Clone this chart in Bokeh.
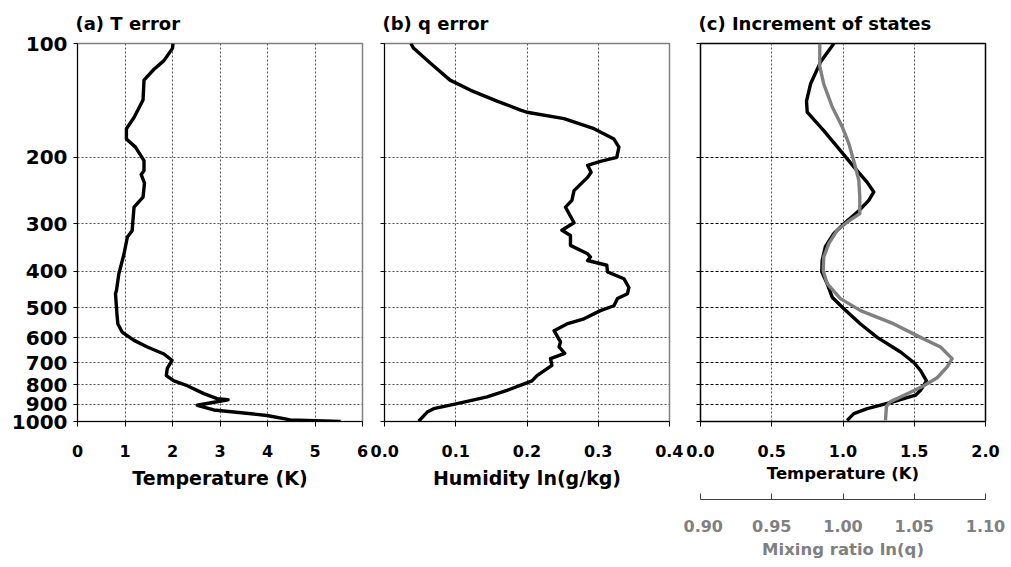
from bokeh.plotting import figure
from bokeh.layouts import row
from bokeh.models import (Range1d, LinearAxis, FixedTicker, PrintfTickFormatter)
from bokeh.embed import file_html
from bokeh.resources import INLINE

# ---------------- data ----------------
# (a) T error
ta_p = [100, 103, 111, 117, 125, 141, 157, 168, 179, 188, 204, 217, 222, 234, 255, 271,
        313, 325, 360, 407, 450, 459, 519, 552, 580, 610, 635, 663, 689, 724, 756, 781,
        804, 844, 870, 876, 906, 932, 964, 990, 1000]
ta_T = [2.01, 2.00, 1.82, 1.61, 1.40, 1.38, 1.19, 1.03, 1.03, 1.22, 1.40, 1.40, 1.34, 1.41,
        1.38, 1.19, 1.15, 1.05, 0.98, 0.87, 0.82, 0.80, 0.83, 0.85, 0.94, 1.19, 1.47, 1.82,
        1.99, 1.89, 1.87, 2.03, 2.31, 2.66, 2.94, 3.17, 2.52, 2.87, 3.99, 4.48, 5.54]

# (b) q error
qb_p = [100, 103, 113, 125, 133, 142, 150, 152, 158, 168, 179, 188, 200, 205, 210, 219,
        226, 245, 260, 271, 298, 312, 322, 342, 360, 367, 375, 386, 402, 419, 442, 459,
        473, 494, 509, 535, 552, 575, 616, 635, 660, 682, 710, 756, 781, 795, 827, 861,
        897, 925, 944, 998]
qb_q = [0.037, 0.041, 0.065, 0.092, 0.121, 0.158, 0.191, 0.200, 0.252, 0.294, 0.322, 0.329,
        0.326, 0.303, 0.285, 0.290, 0.285, 0.266, 0.263, 0.254, 0.266, 0.249, 0.261, 0.261,
        0.285, 0.289, 0.285, 0.312, 0.313, 0.336, 0.343, 0.341, 0.327, 0.322, 0.303, 0.280,
        0.256, 0.238, 0.247, 0.245, 0.253, 0.233, 0.235, 0.214, 0.207, 0.196, 0.172, 0.144,
        0.102, 0.069, 0.060, 0.048]

# (c) increment of states: temperature
ct_p = [100, 112, 128, 142, 152, 170, 192, 212, 233, 247, 260, 277, 297, 318, 344, 375,
        402, 432, 469, 503, 552, 599, 655, 698, 733, 781, 827, 852, 886, 925, 953, 993]
ct_T = [0.936, 0.842, 0.772, 0.744, 0.749, 0.865, 0.982, 1.076, 1.170, 1.216, 1.181, 1.111,
        1.018, 0.936, 0.877, 0.854, 0.851, 0.889, 0.924, 1.006, 1.123, 1.240, 1.404, 1.497,
        1.544, 1.586, 1.544, 1.509, 1.357, 1.170, 1.076, 1.029]

# (c) increment of states: mixing ratio ln(q)
cq_p = [100, 115, 128, 147, 166, 184, 208, 230, 255, 282, 297, 312, 338, 367, 399, 432,
        473, 509, 552, 599, 635, 682, 717, 766, 804, 844, 886, 912, 993]
cq_q = [0.9837, 0.9837, 0.9865, 0.9924, 0.9994, 1.0041, 1.0081, 1.0111, 1.0118, 1.0118,
        1.0029, 0.9959, 0.9901, 0.9865, 0.9861, 0.9889, 0.9982, 1.0123, 1.0357, 1.0544,
        1.0684, 1.0766, 1.0731, 1.0661, 1.0567, 1.0451, 1.0333, 1.0305, 1.0298]

p_ticks = [100, 200, 300, 400, 500, 600, 700, 800, 900, 1000]
a_ticks = [0, 1, 2, 3, 4, 5, 6]
b_ticks = [0.0, 0.1, 0.2, 0.3, 0.4]
c_ticks = [0.0, 0.5, 1.0, 1.5, 2.0]
q_ticks = [0.90, 0.95, 1.00, 1.05, 1.10]

FONT = "DejaVu Sans"
GRAY = "#808080"
TOP = 43
BOTTOM = 140
FRAME_H = 378
H = TOP + FRAME_H + BOTTOM
FRAME_W = 285
LW = 3.4


def make_fig(title, xr, xticks, xfmt, xlabel, bl, br, label_size="19px"):
    w = bl + FRAME_W + br
    p = figure(width=w, height=H, y_axis_type="log", x_range=Range1d(*xr),
               y_range=Range1d(1000, 100), output_backend="svg", toolbar_location=None,
               min_border_left=bl, min_border_right=br, min_border_top=TOP,
               min_border_bottom=BOTTOM)
    p.title.text = title
    p.title.text_font = FONT
    p.title.text_font_style = "bold"
    p.title.text_font_size = "18px"
    p.title.text_color = "black"
    p.title.align = "left"
    p.title.offset = -2
    p.title.standoff = 20
    p.outline_line_color = GRAY
    p.outline_line_width = 1.5
    p.background_fill_color = "white"
    p.border_fill_color = "white"

    xa = p.xaxis[0]
    xa.ticker = FixedTicker(ticks=xticks)
    xa.formatter = PrintfTickFormatter(format=xfmt)
    xa.axis_label = xlabel
    xa.axis_label_text_font = FONT
    xa.axis_label_text_font_style = "bold"
    xa.axis_label_text_font_size = label_size
    xa.axis_label_text_color = "black"
    xa.axis_label_standoff = 7
    xa.major_label_text_font = FONT
    xa.major_label_text_font_style = "bold"
    xa.major_label_text_font_size = "16px"
    xa.major_label_text_color = "black"
    xa.major_label_standoff = 18
    xa.major_tick_out = 5
    xa.major_tick_in = 0
    xa.minor_tick_line_color = None
    xa.axis_line_color = "black"
    xa.major_tick_line_color = "black"

    ya = p.yaxis[0]
    ya.ticker = FixedTicker(ticks=p_ticks)
    ya.formatter = PrintfTickFormatter(format="%d")
    ya.major_label_text_font = FONT
    ya.major_label_text_font_style = "bold"
    ya.major_label_text_font_size = "20px"
    ya.major_label_text_color = "black"
    ya.major_label_standoff = 6
    ya.major_tick_out = 4
    ya.major_tick_in = 0
    ya.minor_tick_line_color = None
    ya.axis_line_color = "black"
    ya.major_tick_line_color = "black"

    p.xgrid.ticker = FixedTicker(ticks=xticks[1:-1])
    p.ygrid.ticker = FixedTicker(ticks=p_ticks[1:-1])
    for g in (p.xgrid, p.ygrid):
        g.grid_line_color = "#555555"
        g.grid_line_dash = "2 2"
        g.grid_line_width = 1
    return p


pa = make_fig("(a) T error", (0, 6), a_ticks, "%d", "Temperature (K)", 77, 8)
pa.line(ta_T, ta_p, line_color="black", line_width=LW, line_join="round")

pb = make_fig("(b) q error", (0, 0.4), b_ticks, "%.1f", "Humidity ln(g/kg)", 14, 14)
pb.yaxis[0].major_label_overrides = {v: "" for v in p_ticks}
pb.line(qb_q, qb_p, line_color="black", line_width=LW, line_join="round")

pc = make_fig("(c) Increment of states", (0, 2), c_ticks, "%.1f", "Temperature (K)", 17, 20,
              label_size="16.5px")
pc.yaxis[0].major_label_overrides = {v: "" for v in p_ticks}
pc.xaxis[0].axis_label_standoff = 4
pc.outline_line_color = "black"
pc.ygrid.grid_line_color = "black"
pc.ygrid.grid_line_dash = "3 2"

pc.extra_x_ranges = {"q": Range1d(0.90, 1.10)}

# spacer axis (draws nothing visible) to leave room between the two bottom axes
spacer = LinearAxis(x_range_name="q", ticker=FixedTicker(ticks=[1.0]),
                    axis_line_color=None, major_tick_line_color="white",
                    major_tick_line_alpha=0.0,
                    minor_tick_line_color=None, major_tick_out=14, major_tick_in=0,
                    minor_tick_out=0, major_label_standoff=0,
                    major_label_overrides={1.0: ""})
pc.add_layout(spacer, "below")

qa = LinearAxis(x_range_name="q", ticker=FixedTicker(ticks=q_ticks),
                formatter=PrintfTickFormatter(format="%.2f"),
                axis_label="Mixing ratio ln(q)")
qa.axis_label_text_font = FONT
qa.axis_label_text_font_style = "bold"
qa.axis_label_text_font_size = "16.5px"
qa.axis_label_text_color = GRAY
qa.axis_label_standoff = 5
qa.major_label_text_font = FONT
qa.major_label_text_font_style = "bold"
qa.major_label_text_font_size = "16px"
qa.major_label_text_color = GRAY
qa.major_label_standoff = 20
qa.major_tick_out = 0
qa.major_tick_in = 6
qa.minor_tick_line_color = None
qa.axis_line_color = "#404040"
qa.major_tick_line_color = "#404040"
pc.add_layout(qa, "below")

pc.line(ct_T, ct_p, line_color="black", line_width=LW, line_join="round")
pc.line(cq_q, cq_p, x_range_name="q", line_color=GRAY, line_width=LW, line_join="round")

layout = row(pa, pb, pc)
open("out.html", "w").write(file_html(layout, INLINE))
